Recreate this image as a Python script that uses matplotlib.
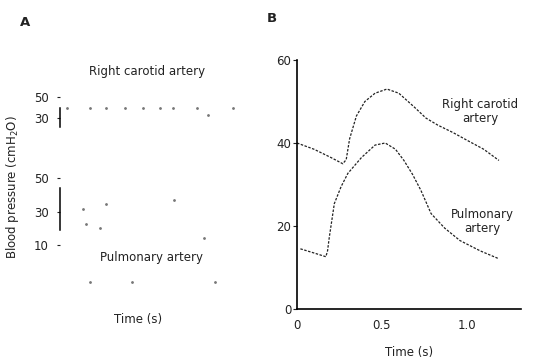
import matplotlib
matplotlib.use("Agg")
import matplotlib.pyplot as plt

# panel B: traced pressure curves (time in s, pressure in cmH2O)
carotid_t = [0.0, 0.10, 0.20, 0.27, 0.29, 0.31, 0.35, 0.40, 0.46, 0.53, 0.60, 0.69, 0.76, 0.83, 0.92, 1.00, 1.10, 1.19]
carotid_p = [40.0, 38.5, 36.5, 35.0, 36.0, 41.0, 46.5, 50.0, 52.0, 53.0, 52.0, 48.7, 46.0, 44.3, 42.5, 40.7, 38.5, 35.8]

pulm_t = [0.02, 0.10, 0.17, 0.18, 0.19, 0.22, 0.26, 0.30, 0.38, 0.46, 0.52, 0.58, 0.63, 0.68, 0.73, 0.79, 0.87, 0.96, 1.08, 1.19]
pulm_p = [14.5, 13.5, 12.6, 14.0, 17.2, 25.4, 29.5, 32.7, 36.5, 39.5, 40.0, 38.5, 35.8, 32.5, 28.6, 23.0, 19.5, 16.5, 14.0, 12.1]

b_xticks = [0, 0.5, 1.0]
b_xticklabels = ["0", "0.5", "1.0"]
b_yticks = [0, 20, 40, 60]

# panel A: faint fragments of the original recording
a_car_t = [0.07, 0.28, 0.43, 0.61, 0.78, 0.94, 1.07, 1.29, 1.40, 1.63]
a_car_p = [40, 40, 40, 40, 40, 40, 40, 40, 33, 40]
a_pul_t = [0.22, 0.25, 0.38, 0.43, 1.08, 1.36, 0.28, 0.68, 1.46]
a_pul_p = [31.5, 22.6, 20.2, 34.5, 36.9, 14.3, -12, -12, -12]
a_car_ticks = [30, 50]
a_pul_ticks = [10, 30, 50]

W, H = 539, 362
fig = plt.figure(figsize=(W / 100, H / 100), dpi=100)
plt.rcParams['font.family'] = ['DejaVu Sans']
ink = '#222222'


def px_rect(x0, y0, x1, y1):
    # pixel box (top-left origin) -> figure fraction rect
    return [x0 / W, 1 - y1 / H, (x1 - x0) / W, (y1 - y0) / H]


# ---------- panel B ----------
axb = fig.add_axes(px_rect(297, 60, 521, 309))
axb.plot(carotid_t, carotid_p, color=ink, lw=0.9, ls=(0, (2, 1.2)))
axb.plot(pulm_t, pulm_p, color=ink, lw=0.9, ls=(0, (2, 1.2)))
axb.set_xlim(0, 1.32)
axb.set_ylim(0, 60)
for s in ['top', 'right']:
    axb.spines[s].set_visible(False)
axb.spines['left'].set_linewidth(1.2)
axb.spines['bottom'].set_linewidth(1.2)
axb.set_xticks(b_xticks)
axb.set_xticklabels(b_xticklabels)
axb.set_yticks(b_yticks)
axb.tick_params(axis='x', length=0, pad=7, labelsize=8.5, colors=ink)
axb.tick_params(axis='y', length=3, direction='out', pad=1, labelsize=8.5, colors=ink)
axb.set_xlabel("Time (s)", fontsize=8.5, color=ink, labelpad=10)
axb.text(1.08, 47.7, "Right carotid\nartery", ha='center', va='center',
         fontsize=8.5, color=ink, linespacing=1.1)
axb.text(1.09, 21, "Pulmonary\nartery", ha='center', va='center',
         fontsize=8.5, color=ink, linespacing=1.1)

# ---------- panel A ----------
axa1 = fig.add_axes(px_rect(60, 90, 240, 130))
axa1.plot(a_car_t, a_car_p, ls='none', marker='o', ms=1.0, color='#777777')
axa1.set_xlim(0, 1.7)
axa1.set_ylim(18.6, 56.7)
axa1.set_yticks(a_car_ticks)

axa2 = fig.add_axes(px_rect(60, 170, 240, 290))
axa2.plot(a_pul_t, a_pul_p, ls='none', marker='o', ms=1.0, color='#777777')
axa2.set_xlim(0, 1.7)
axa2.set_ylim(-16.7, 54.8)
axa2.set_yticks(a_pul_ticks)

for ax, bounds in [(axa1, (21.4, 39.5)), (axa2, (19, 44))]:
    for s in ['top', 'right', 'bottom']:
        ax.spines[s].set_visible(False)
    ax.spines['left'].set_bounds(*bounds)
    ax.spines['left'].set_linewidth(1.1)
    ax.set_xticks([])
    ax.tick_params(axis='y', length=2, pad=6, labelsize=8.5, colors=ink)
    ax.patch.set_visible(False)

fig.text(147 / W, 1 - 72 / H, "Right carotid artery", ha='center', va='center', fontsize=8.5, color=ink)
fig.text(152 / W, 1 - 258 / H, "Pulmonary artery", ha='center', va='center', fontsize=8.5, color=ink)
fig.text(138 / W, 1 - 320 / H, "Time (s)", ha='center', va='center', fontsize=8.5, color=ink)
fig.text(13 / W, 1 - 187 / H, "Blood pressure (cmH$_2$O)", ha='center', va='center',
         rotation=90, fontsize=8.5, color=ink)

fig.text(25 / W, 1 - 22 / H, "A", ha='center', va='center', fontsize=9.5, fontweight='bold', color=ink)
fig.text(272 / W, 1 - 18 / H, "B", ha='center', va='center', fontsize=9.5, fontweight='bold', color=ink)

fig.savefig("out.png", dpi=100)
